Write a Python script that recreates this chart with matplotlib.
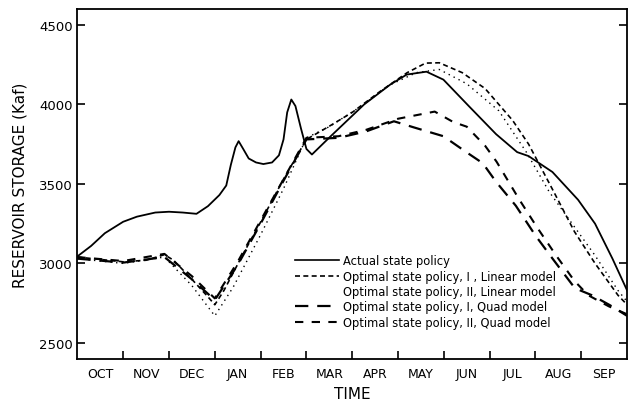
import matplotlib

matplotlib.use("Agg")
import matplotlib.pyplot as plt
from matplotlib.lines import Line2D

# months since Oct 1 (0..12) and storage in Kaf
months = ["OCT", "NOV", "DEC", "JAN", "FEB", "MAR", "APR", "MAY", "JUN", "JUL", "AUG", "SEP"]
yticks = [2500, 3000, 3500, 4000, 4500]

actual_t = [0, 0.3, 0.6, 1.0, 1.3, 1.7, 2.0, 2.3, 2.6, 2.85, 3.1, 3.25, 3.35, 3.45, 3.52,
            3.62, 3.74, 3.9, 4.06, 4.25, 4.4, 4.5, 4.58, 4.67, 4.76, 4.88, 5.0, 5.12,
            5.53, 6.26, 6.83, 7.19, 7.62, 7.99, 8.55, 9.14, 9.6, 9.85, 10.37, 10.93,
            11.3, 11.68, 12.0]
actual_s = [3044, 3110, 3190, 3262, 3294, 3320, 3325, 3320, 3312, 3360, 3430, 3490, 3620,
            3730, 3769, 3720, 3660, 3635, 3625, 3635, 3680, 3780, 3950, 4031, 3990, 3850,
            3720, 3685, 3800, 4000, 4125, 4188, 4206, 4156, 3988, 3813, 3700, 3675, 3575,
            3400, 3250, 3030, 2830]

lin1_t = [0, 0.5, 1.0, 1.5, 1.9, 2.1, 2.5, 2.85, 3.0, 3.2, 3.6, 4.0, 4.5, 5.0, 5.5, 6.0,
          6.6, 7.2, 7.6, 7.9, 8.4, 8.9, 9.5, 9.85, 10.4, 10.85, 11.3, 11.8, 12.0]
lin1_s = [3040, 3025, 3010, 3020, 3055, 3020, 2900, 2790, 2740, 2830, 3050, 3260, 3530,
          3780, 3863, 3950, 4080, 4200, 4260, 4262, 4200, 4100, 3900, 3750, 3450, 3200,
          3000, 2800, 2740]

lin2_t = [0, 1.0, 1.9, 2.5, 3.0, 3.4, 4.0, 4.5, 5.0, 5.5, 6.2, 6.8, 7.4, 7.9, 8.5, 9.2,
          9.8, 10.3, 10.8, 11.3, 11.8, 12.0]
lin2_s = [3030, 3000, 3040, 2860, 2670, 2850, 3180, 3470, 3790, 3860, 3990, 4120, 4200,
          4220, 4130, 3960, 3700, 3450, 3250, 3050, 2830, 2760]

quad1_t = [0, 1.0, 1.9, 2.5, 3.0, 3.5, 4.0, 4.5, 5.0, 5.7, 6.3, 6.91, 7.34, 7.99, 8.49,
           8.85, 9.14, 9.57, 10.0, 10.37, 10.86, 11.23, 11.62, 12.0]
quad1_s = [3030, 3005, 3040, 2900, 2770, 2990, 3250, 3520, 3780, 3790, 3830, 3894, 3856,
           3800, 3700, 3630, 3513, 3363, 3175, 3031, 2844, 2800, 2738, 2670]

quad2_t = [0, 1.0, 1.9, 2.5, 3.0, 3.5, 4.0, 4.5, 5.0, 5.7, 6.3, 7.0, 7.8, 8.2, 8.5, 8.9,
           9.15, 9.65, 10.05, 10.45, 10.85, 11.15, 11.6, 12.0]
quad2_s = [3040, 3015, 3060, 2920, 2780, 3010, 3270, 3530, 3790, 3800, 3840, 3910, 3955,
           3890, 3860, 3740, 3640, 3400, 3220, 3050, 2890, 2800, 2730, 2680]

labels = [
    "Actual state policy",
    "Optimal state policy, I , Linear model",
    "Optimal state policy, II, Linear model",
    "Optimal state policy, I, Quad model",
    "Optimal state policy, II, Quad model",
]

fig = plt.figure(figsize=(6.29, 4.02), dpi=100)
ax = fig.add_axes([0.123, 0.105, 0.874, 0.87])

ax.plot(actual_t, actual_s, color="black", lw=1.3)
ax.plot(lin1_t, lin1_s, color="black", lw=1.2, dashes=(3, 2))
ax.plot(lin2_t, lin2_s, color="black", lw=1.0, dashes=(1, 3))
ax.plot(quad1_t, quad1_s, color="black", lw=1.6, dashes=(6, 4))
ax.plot(quad2_t, quad2_s, color="black", lw=1.5, dashes=(4, 4))

ax.set_xlim(0, 12)
ax.set_ylim(2400, 4600)
ax.set_yticks(yticks)
ax.set_xticks(range(1, 12))
ax.set_xticklabels([])
ax.set_xticks([i + 0.5 for i in range(12)], minor=True)
ax.set_xticklabels(months, minor=True, fontsize=9)
ax.tick_params(axis="x", which="minor", length=0, pad=6)
ax.tick_params(axis="x", which="major", direction="in", length=6, width=1.2)
ax.tick_params(axis="y", direction="in", length=6, width=1.2, labelsize=9.5, right=True)
for sp in ax.spines.values():
    sp.set_linewidth(1.3)

ax.set_xlabel("TIME", fontsize=11, labelpad=4)
ax.set_ylabel("RESERVOIR STORAGE (Kaf)", fontsize=11, labelpad=8)

handles = [
    Line2D([], [], color="black", lw=1.2),
    Line2D([], [], color="black", lw=1.2, dashes=(3, 2)),
    Line2D([], [], color="none"),
    Line2D([], [], color="black", lw=1.6, dashes=(6, 4)),
    Line2D([], [], color="black", lw=1.5, dashes=(4, 4)),
]
ax.legend(handles, labels, loc="upper left", bbox_to_anchor=(0.386, 0.315), frameon=False,
          fontsize=8.3, handlelength=3.8, handletextpad=0.35, labelspacing=0.2,
          borderpad=0)

fig.savefig("out.png", dpi=100)
